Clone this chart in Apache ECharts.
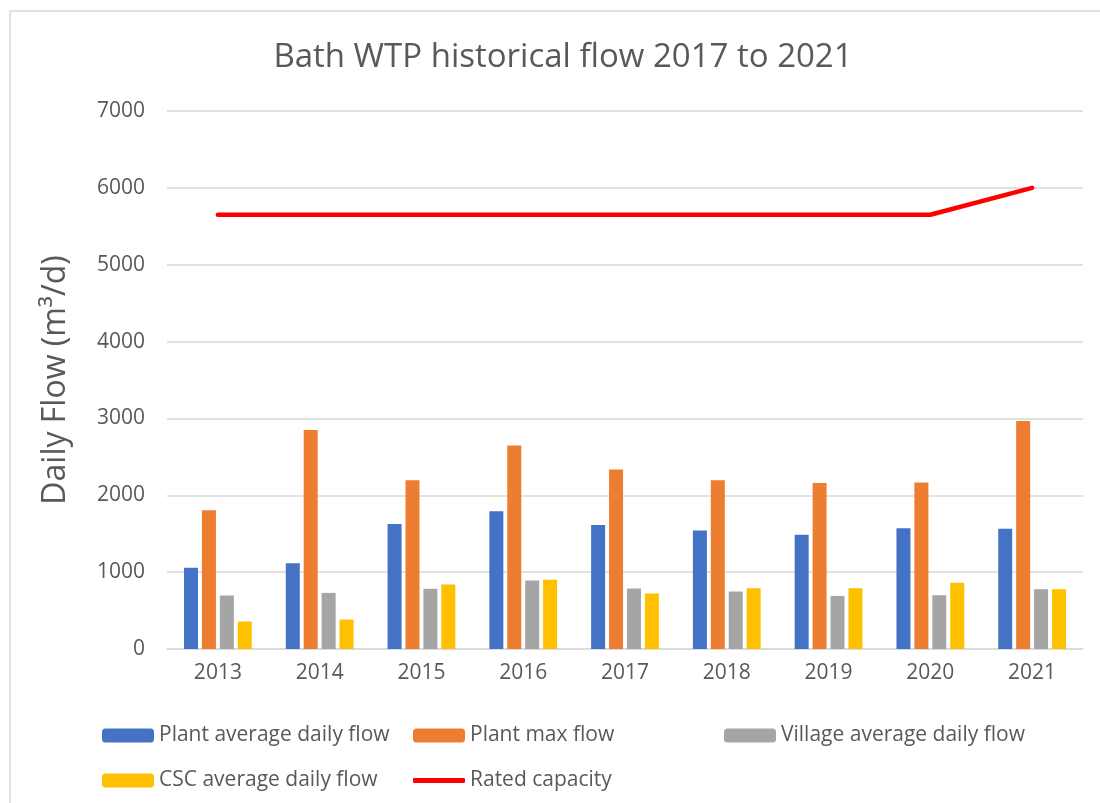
<!DOCTYPE html>
<html>
<head>
<meta charset="utf-8">
<script src="https://cdn.jsdelivr.net/npm/echarts@6/dist/echarts.min.js"></script>
<style>
html,body{margin:0;padding:0;background:#fff;}
#chart{width:1100px;height:803px;}
</style>
</head>
<body>
<div id="chart"></div>
<script>
const years = ['2013','2014','2015','2016','2017','2018','2019','2020','2021'];
const plantAvg = [1057, 1117, 1626, 1791, 1613, 1543, 1487, 1570, 1565];
const plantMax = [1804, 2848, 2196, 2648, 2335, 2196, 2161, 2165, 2965];
const villageAvg = [696, 730, 783, 891, 787, 748, 691, 700, 778];
const cscAvg = [357, 383, 839, 900, 722, 791, 791, 861, 778];
const ratedCapacity = [5650, 5650, 5650, 5650, 5650, 5650, 5650, 5650, 6000];
const yTicks = [0, 1000, 2000, 3000, 4000, 5000, 6000, 7000];

const FONT = '"Open Sans", sans-serif';
const TXT = '#595959';
const chart = echarts.init(document.getElementById('chart'));

function bar(name, data, color) {
  return {
    name, type: 'bar', data, barWidth: 14, barGap: '28%',
    itemStyle: { color }
  };
}
function legendAt(name, left, top, extra) {
  return Object.assign({
    data: [name], left, top, padding: 0,
    itemWidth: 52, itemHeight: 14,
    textStyle: { color: TXT, fontFamily: FONT, fontSize: 21 }
  }, extra || {});
}

chart.setOption({
  animation: false,
  backgroundColor: '#fff',
  title: {
    text: 'Bath WTP historical flow 2017 to 2021',
    left: 558, top: 36, textAlign: 'center',
    textStyle: { color: TXT, fontFamily: FONT, fontSize: 33, fontWeight: 'normal' }
  },
  graphic: [{
    type: 'rect', silent: true, z: -1,
    shape: { x: 10, y: 11, width: 1200, height: 900 },
    style: { fill: 'none', stroke: '#d9d9d9', lineWidth: 1.5 }
  }],
  legend: [
    legendAt('Plant average daily flow', 102, 725),
    legendAt('Plant max flow', 413, 725),
    legendAt('Village average daily flow', 724, 725),
    legendAt('CSC average daily flow', 102, 770),
    legendAt('Rated capacity', 413, 770, {
      data: [{ name: 'Rated capacity', icon: 'roundRect' }],
      itemHeight: 5,
      itemStyle: { color: '#FF0000', borderWidth: 0 },
      lineStyle: { width: 0 }
    })
  ],
  grid: { left: 167, right: 17, top: 111, bottom: 154, containLabel: false },
  xAxis: {
    type: 'category', data: years,
    axisLine: { lineStyle: { color: '#d9d9d9', width: 1.5 } },
    axisTick: { show: false },
    axisLabel: { color: TXT, fontFamily: FONT, fontSize: 21, margin: 14 }
  },
  yAxis: {
    type: 'value', min: yTicks[0], max: yTicks[yTicks.length - 1], interval: 1000,
    name: 'Daily Flow (m³/d)', nameLocation: 'middle', nameGap: 95,
    nameTextStyle: { color: TXT, fontFamily: FONT, fontSize: 32 },
    axisLine: { show: false }, axisTick: { show: false },
    axisLabel: { color: TXT, fontFamily: FONT, fontSize: 21, margin: 22,
      formatter: v => String(v) },
    splitLine: { lineStyle: { color: '#d9d9d9', width: 1.5 } }
  },
  series: [
    bar('Plant average daily flow', plantAvg, '#4472C4'),
    bar('Plant max flow', plantMax, '#ED7D31'),
    bar('Village average daily flow', villageAvg, '#A5A5A5'),
    bar('CSC average daily flow', cscAvg, '#FFC000'),
    {
      name: 'Rated capacity', type: 'line', data: ratedCapacity,
      symbol: 'none', color: '#FF0000',
      lineStyle: { color: '#FF0000', width: 4.5, cap: 'round', join: 'round' }
    }
  ]
});
</script>
</body>
</html>
